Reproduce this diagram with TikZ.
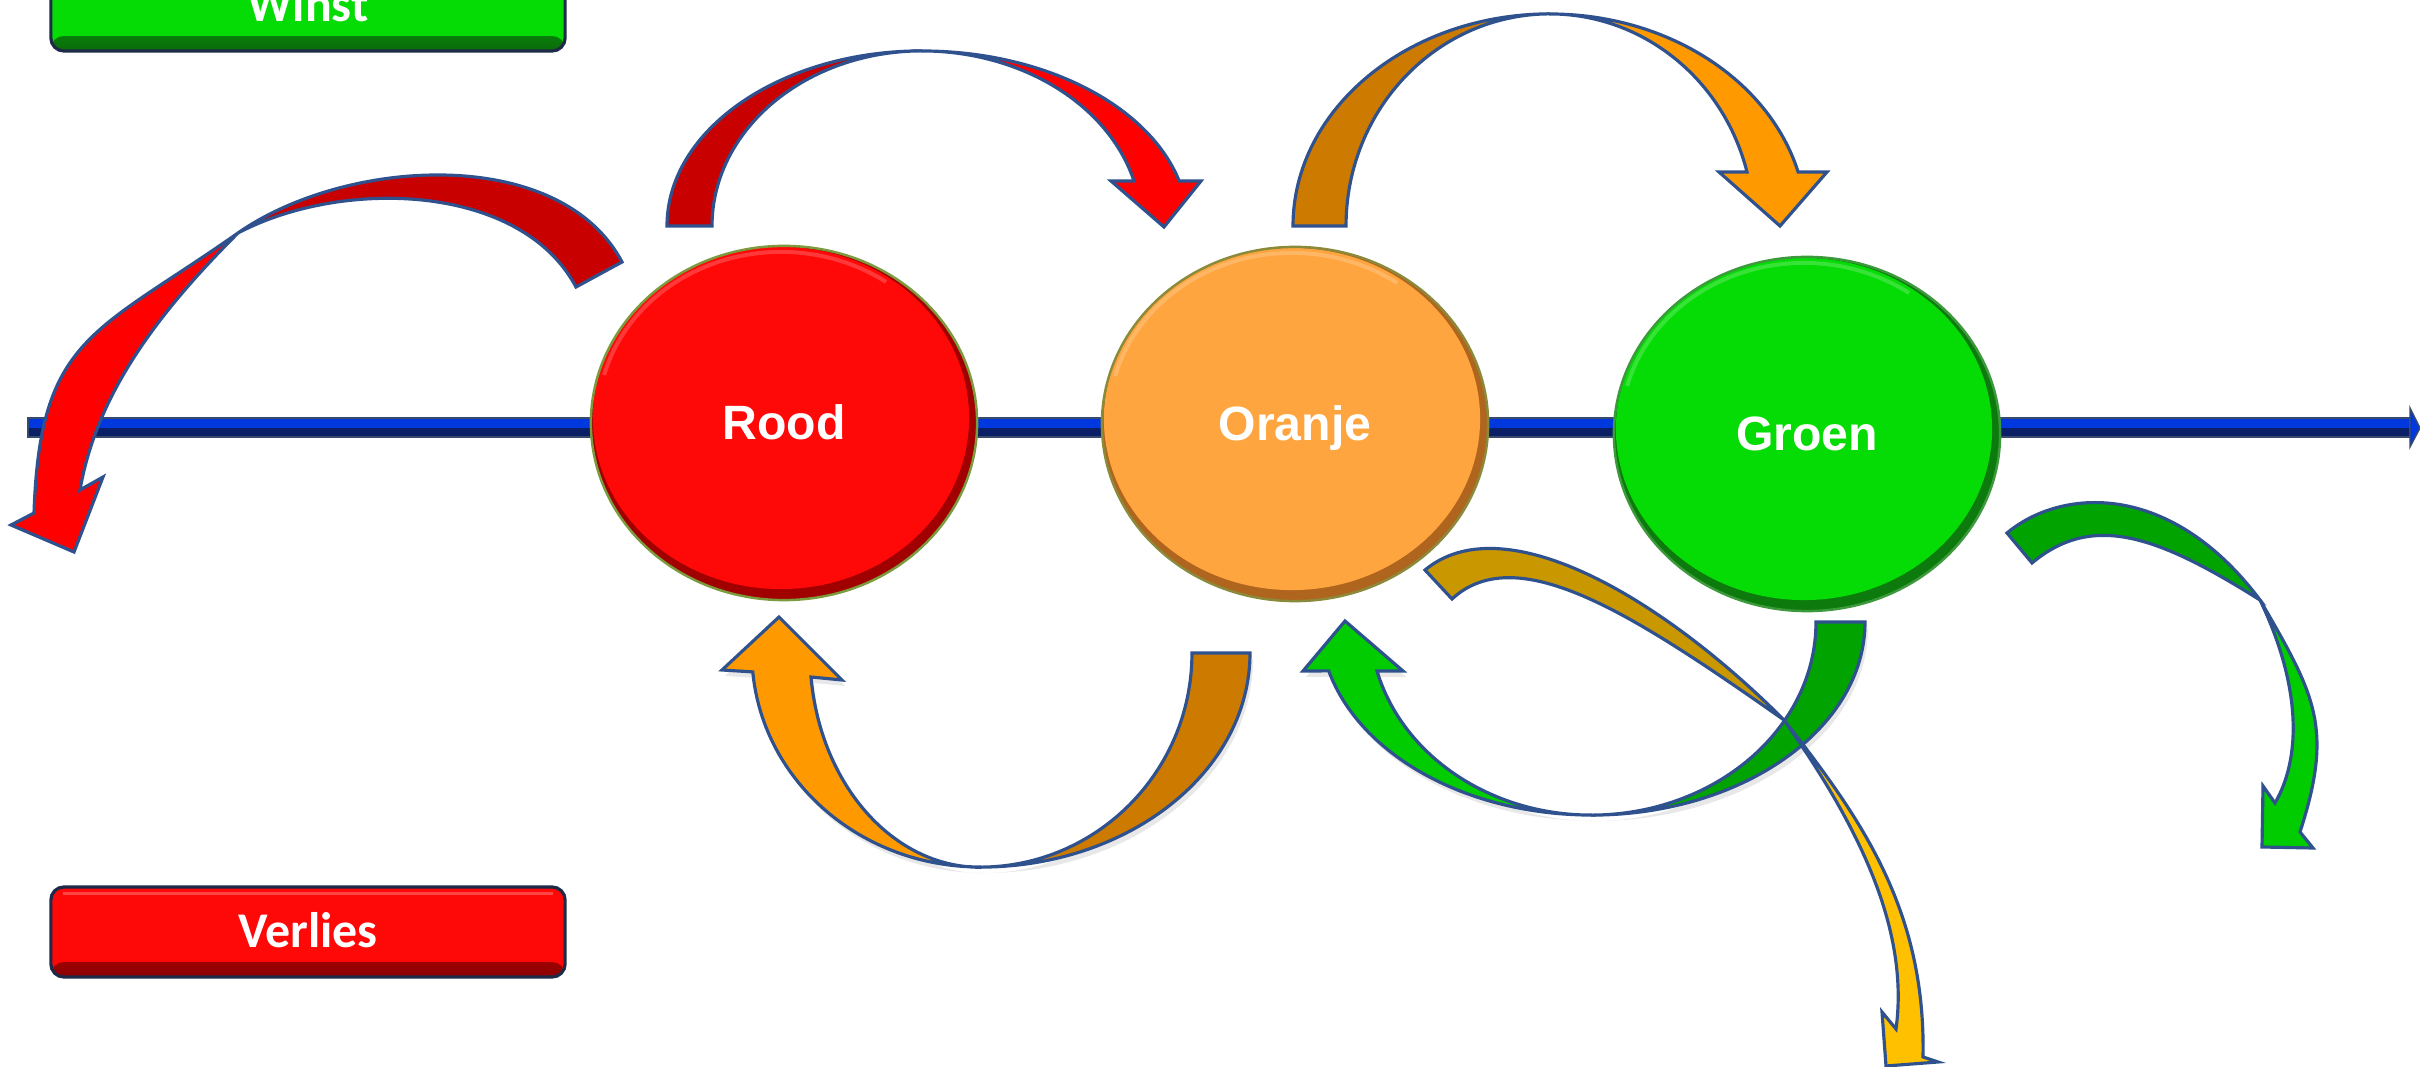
\documentclass[tikz,border=0pt]{standalone}
\usepackage{fontspec}
\newfontfamily\arialfont{Liberation Sans}
\newfontfamily\califont{Carlito}
\usetikzlibrary{shapes.geometric,calc,shadows}

\definecolor{edgeblue}{HTML}{2F528F}
\definecolor{boxedge}{HTML}{1E2A48}
\definecolor{roodc}{HTML}{FF0808}
\definecolor{roodrim}{HTML}{A00000}
\definecolor{roodline}{HTML}{7C9A3E}
\definecolor{oranjec}{HTML}{FFA53F}
\definecolor{oranjerim}{HTML}{B0651E}
\definecolor{oranjeline}{HTML}{8A8A3A}
\definecolor{groenc}{HTML}{05DC05}
\definecolor{groenrim}{HTML}{0C7A0C}
\definecolor{groenline}{HTML}{3C9A3C}
\definecolor{axtop}{HTML}{0038E0}
\definecolor{axbot}{HTML}{0B1F66}
\definecolor{axedge}{HTML}{3A4A6A}
\definecolor{redback}{HTML}{C80000}
\definecolor{redfront}{HTML}{FF0000}
\definecolor{orback}{HTML}{CC7A00}
\definecolor{orfront}{HTML}{FF9900}
\definecolor{grback}{HTML}{00A300}
\definecolor{grfront}{HTML}{00CC00}
\definecolor{goback}{HTML}{C99700}
\definecolor{gofront}{HTML}{FFC000}
\definecolor{boxgreen}{HTML}{05DC05}
\definecolor{boxgreendark}{HTML}{0A6A0A}
\definecolor{boxred}{HTML}{FF0808}
\definecolor{boxreddark}{HTML}{8A0000}

\begin{document}
\begin{tikzpicture}[x=0.01cm,y=0.01cm,
  arrowpart/.style={fill=#1, draw=edgeblue, line width=0.9pt, line join=miter},
  shad/.style={drop shadow={shadow xshift=0.03cm, shadow yshift=-0.06cm, opacity=0.18}},
  ball/.style n args={3}{ellipse, minimum width=3.86cm, minimum height=3.54cm,
    inner sep=0pt, fill=#2, draw=#3, line width=0.7pt, text=white,
    font=\arialfont\bfseries\fontsize{13.7}{16}\selectfont,
    text height=0.93em, text depth=0pt,
    path picture={
      \fill[#1] ([xshift=-0.03cm,yshift=0.05cm]path picture bounding box.center)
        ellipse [x radius=1.88cm, y radius=1.71cm];
      \draw[white, opacity=0.2, line width=0.04cm]
        ([xshift=-0.03cm,yshift=0.05cm]path picture bounding box.center)
        ++(165:1.83cm and 1.66cm)
        arc[start angle=165, end angle=55, x radius=1.83cm, y radius=1.66cm];
    }},
  labelbox/.style n args={3}{rectangle, rounded corners=0.13cm,
    minimum width=5.14cm, minimum height=0.90cm, inner sep=0pt,
    fill=#1, draw=boxedge, line width=0.9pt, text=white,
    font=\califont\bfseries\fontsize{14.2}{17}\selectfont,
    text height=0.9em, text depth=0pt,
    path picture={
      \shade[top color=#1, bottom color=#2]
        ([yshift=0.15cm]path picture bounding box.south west)
        rectangle (path picture bounding box.south east);
      \draw[#3, line width=0.03cm]
        ([xshift=0.12cm,yshift=-0.07cm]path picture bounding box.north west)
        -- ([xshift=-0.12cm,yshift=-0.07cm]path picture bounding box.north east);
    }}
]
\useasboundingbox (0,0) rectangle (2420,-1067);
\fill[white] (0,0) rectangle (2420,-1067);
\clip (0,0) rectangle (2420,-1067);

% axis
\coordinate (axL) at (28,-428);
\coordinate (axR) at (2420,-428);
\fill[axtop] ($(axL)+(0,10)$) rectangle ($(axR)+(-10,0)$);
\fill[axbot] (axL) rectangle ($(axR)+(-10,-9)$);
\draw[axedge, line width=0.4pt] ($(axL)+(0,10)$) rectangle ($(axR)+(-10,-9)$);
\fill[axtop, draw=axedge, line width=0.4pt] ($(axR)+(-10,20)$) -- (axR) -- ($(axR)+(-10,-19)$) -- cycle;

% circles
\node[ball={roodc}{roodrim}{roodline}] (rood) at (784,-423) {Rood};
\node[ball={oranjec}{oranjerim}{oranjeline}] (oranje) at (1295,-424) {Oranje};
\node[ball={groenc}{groenrim}{groenline}] (groen) at (1807,-434) {Groen};

% legend boxes
\node[labelbox={boxgreen}{boxgreendark}{white!40!boxgreen}] (winst) at (308,-6) {Winst};
\node[labelbox={boxred}{boxreddark}{white!25!boxred}] (verlies) at (308,-932) {Verlies};

% A: red arrow, Rood to the left
\path[arrowpart=redback] (622,-262) .. controls (560,-145) and (347,-157) .. (238,-233)
  .. controls (342,-178) and (521,-183) .. (576,-287) -- cycle;
\path[arrowpart=redfront] (238,-233) .. controls (94,-334) and (40,-337) .. (34,-513)
  -- (11,-525) -- (74,-552) -- (103,-477) -- (80,-490)
  .. controls (97,-392) and (160,-311) .. (238,-233) -- cycle;

% B: red arrow, Rood to Oranje
\path[arrowpart=redback] (667,-226)
  arc[start angle=180,end angle=90,x radius=2.55cm,y radius=1.75cm]
  arc[start angle=90,end angle=180,x radius=2.10cm,y radius=1.75cm] -- cycle;
\path[arrowpart=redfront] (922,-51)
  arc[start angle=90,end angle=14.9,x radius=2.66cm,y radius=1.75cm]
  -- (1201,-181) -- (1164,-227) -- (1111,-181) -- (1134,-181)
  arc[start angle=14.9,end angle=90,x radius=2.195cm,y radius=1.75cm] -- cycle;

% C: orange arrow, Oranje to Groen
\path[arrowpart=orback] (1293,-226)
  arc[start angle=180,end angle=90,x radius=2.57cm,y radius=2.12cm]
  arc[start angle=90,end angle=180,x radius=2.04cm,y radius=2.12cm] -- cycle;
\path[arrowpart=orfront] (1550,-14)
  arc[start angle=90,end angle=14.76,x radius=2.565cm,y radius=2.12cm]
  -- (1827,-172) -- (1780,-226) -- (1719,-172) -- (1747,-172)
  arc[start angle=14.76,end angle=90,x radius=2.037cm,y radius=2.12cm] -- cycle;

% D: orange arrow, Oranje back to Rood
\path[arrowpart=orback, shad] (1250,-653)
  arc[start angle=0,end angle=-90,x radius=2.70cm,y radius=2.14cm]
  arc[start angle=-90,end angle=0,x radius=2.12cm,y radius=2.14cm] -- cycle;
\path[arrowpart=orfront, shad] (980,-867)
  arc[start angle=270,end angle=185.1,x radius=2.28cm,y radius=2.14cm]
  -- (722,-670) -- (779,-617) -- (842,-680) -- (811,-677)
  arc[start angle=186.4,end angle=270,x radius=1.70cm,y radius=2.14cm] -- cycle;

% E: green arrow, Groen back to Oranje
\path[arrowpart=grback, shad] (1865,-622)
  arc[start angle=0,end angle=-90,x radius=2.74cm,y radius=1.93cm]
  arc[start angle=-90,end angle=0,x radius=2.25cm,y radius=1.93cm] -- cycle;
\path[arrowpart=grfront, shad] (1591,-815)
  arc[start angle=270,end angle=194.7,x radius=2.71cm,y radius=1.93cm]
  -- (1303,-671) -- (1345,-621) -- (1403,-671) -- (1377,-671)
  arc[start angle=194.7,end angle=270,x radius=2.213cm,y radius=1.93cm] -- cycle;

% F: gold arrow, Oranje down to the right
\path[arrowpart=goback] (1425,-570) .. controls (1502,-506) and (1657,-593) .. (1784,-720)
  .. controls (1637,-617) and (1518,-538) .. (1452,-599) -- cycle;
\path[arrowpart=gofront] (1784,-720) .. controls (1858,-815) and (1926,-907) .. (1923,-1057)
  -- (1938,-1062) -- (1886,-1066) -- (1882,-1012) -- (1896,-1029)
  .. controls (1911,-920) and (1847,-810) .. (1784,-720) -- cycle;

% G: green arrow, Groen down to the right
\path[arrowpart=grback] (2007,-533) .. controls (2061,-488) and (2170,-480) .. (2260,-600)
  .. controls (2158,-536) and (2093,-512) .. (2032,-563) -- cycle;
\path[arrowpart=grfront] (2260,-600) .. controls (2315,-695) and (2334,-727) .. (2300,-832)
  -- (2313,-848) -- (2262,-847) -- (2263,-786) -- (2275,-803)
  .. controls (2300,-760) and (2303,-690) .. (2260,-600) -- cycle;
\end{tikzpicture}
\end{document}
